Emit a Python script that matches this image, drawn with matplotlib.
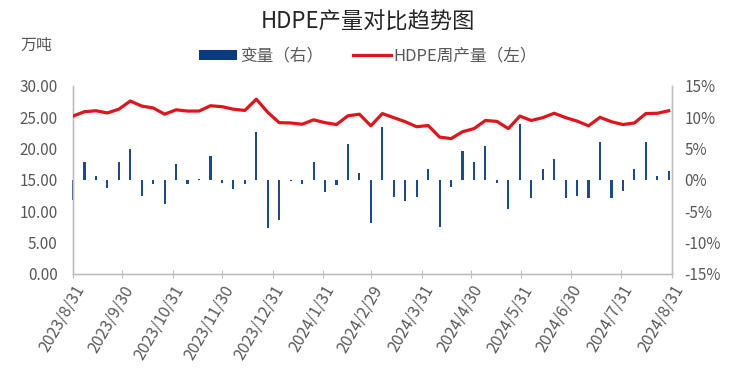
import matplotlib
matplotlib.use("Agg")
import matplotlib.pyplot as plt
from matplotlib.patches import Patch
from matplotlib.lines import Line2D
from matplotlib.ticker import MultipleLocator, FuncFormatter, FixedLocator
import pandas as pd

plt.rcParams['font.family'] = ['Noto Sans CJK SC', 'DejaVu Sans']

# ---- data ----
start_date = "2023-08-31"
n_weeks = 53
weeks = pd.date_range(start_date, periods=n_weeks, freq="7D")

production = [25.2, 25.9, 26.05, 25.7, 26.3, 27.6, 26.8, 26.5, 25.5, 26.2,
              26.0, 26.0, 26.85, 26.7, 26.3, 26.1, 27.9, 25.8, 24.15, 24.1,
              23.9, 24.6, 24.15, 23.85, 25.25, 25.5, 23.65, 25.6, 24.95, 24.3,
              23.5, 23.7, 21.85, 21.6, 22.7, 23.2, 24.5, 24.35, 23.2, 25.2,
              24.5, 24.95, 25.65, 24.95, 24.4, 23.65, 25.0, 24.3, 23.85, 24.1,
              25.6, 25.65, 26.05]

change_pct = [-3.2, 2.9, 0.7, -1.3, 2.9, 4.9, -2.6, -0.6, -3.9, 2.5,
              -0.6, 0.1, 3.8, -0.4, -1.5, -0.7, 7.6, -7.7, -6.4, -0.1,
              -0.6, 2.9, -1.9, -0.85, 5.8, 1.1, -6.9, 8.5, -2.65, -3.3,
              -2.65, 1.8, -7.5, -1.05, 4.7, 2.95, 5.35, -0.4, -4.7, 8.9,
              -2.85, 1.8, 3.4, -2.85, -2.5, -2.85, 6.0, -2.85, -1.8, 1.8,
              6.0, 0.6, 1.5]

month_ticks = ["2023/8/31", "2023/9/30", "2023/10/31", "2023/11/30", "2023/12/31",
               "2024/1/31", "2024/2/29", "2024/3/31", "2024/4/30", "2024/5/31",
               "2024/6/30", "2024/7/31", "2024/8/31"]

title = "HDPE产量对比趋势图"
unit_label = "万吨"
bar_label = "变量（右）"
line_label = "HDPE周产量（左）"

# ---- styling ----
bar_color = "#1B4B8C"
line_color = "#E0141B"
text_color = "#595959"
axis_color = "#BFBFBF"

fig = plt.figure(figsize=(7.45, 3.76), dpi=100)
ax = fig.add_axes([73/745, 1-274/376, (672-73)/745, (274-86)/376])
ax2 = ax.twinx()

ax2.bar(weeks, change_pct, width=1.3, color=bar_color, zorder=2, clip_on=False)
ax.plot(weeks, production, color=line_color, lw=2.3, zorder=3, solid_joinstyle='round')

ax.set_zorder(ax2.get_zorder() + 1)
ax.patch.set_visible(False)

tick_dates = pd.to_datetime(month_ticks, format="%Y/%m/%d")
ax.set_xlim(tick_dates[0], tick_dates[-1])
ax.set_xticks(tick_dates)
ax.set_xticklabels(month_ticks, rotation=60, ha="right", rotation_mode="anchor",
                   color=text_color, fontsize=11.5)
ax.tick_params(axis="x", direction="inout", length=6, color=axis_color, pad=3)

ax.set_ylim(0, 30)
ax.yaxis.set_major_locator(MultipleLocator(5))
ax.yaxis.set_minor_locator(MultipleLocator(10))
ax.yaxis.set_major_formatter(FuncFormatter(lambda v, p: f"{v:.2f}"))
ax.tick_params(axis="y", which="major", length=0, labelcolor=text_color, labelsize=11, pad=11)
ax.tick_params(axis="y", which="minor", direction="in", length=4, color=axis_color)

ax2.set_ylim(-15, 15)
ax2.yaxis.set_major_locator(MultipleLocator(5))
ax2.yaxis.set_minor_locator(FixedLocator([-15, -5, 5, 15]))
ax2.yaxis.set_major_formatter(FuncFormatter(lambda v, p: f"{int(round(v))}%"))
ax2.tick_params(axis="y", which="major", length=0, labelcolor=text_color, labelsize=11, pad=9)
ax2.tick_params(axis="y", which="minor", direction="in", length=4, color=axis_color)

for a in (ax, ax2):
    a.spines["top"].set_visible(False)
    for s in ("left", "right", "bottom"):
        a.spines[s].set_color(axis_color)
        a.spines[s].set_linewidth(1.0)

fig.text(368/745, 1-22/376, title, ha="center", va="center", fontsize=16, color="#262626")
fig.text(36/745, 1-45/376, unit_label, ha="center", va="center", fontsize=11.5, color=text_color)

handles = [Patch(facecolor="#0A3A82", edgecolor="none"),
           Line2D([0], [0], color=line_color, lw=2.3)]
fig.legend(handles, [bar_label, line_label], loc="center", bbox_to_anchor=(368/745, 1-56/376),
           ncol=2, frameon=False, fontsize=12, labelcolor=text_color,
           handlelength=2.3, handleheight=0.55, handletextpad=0.15, columnspacing=1.8)

fig.savefig("out.png", dpi=100)
